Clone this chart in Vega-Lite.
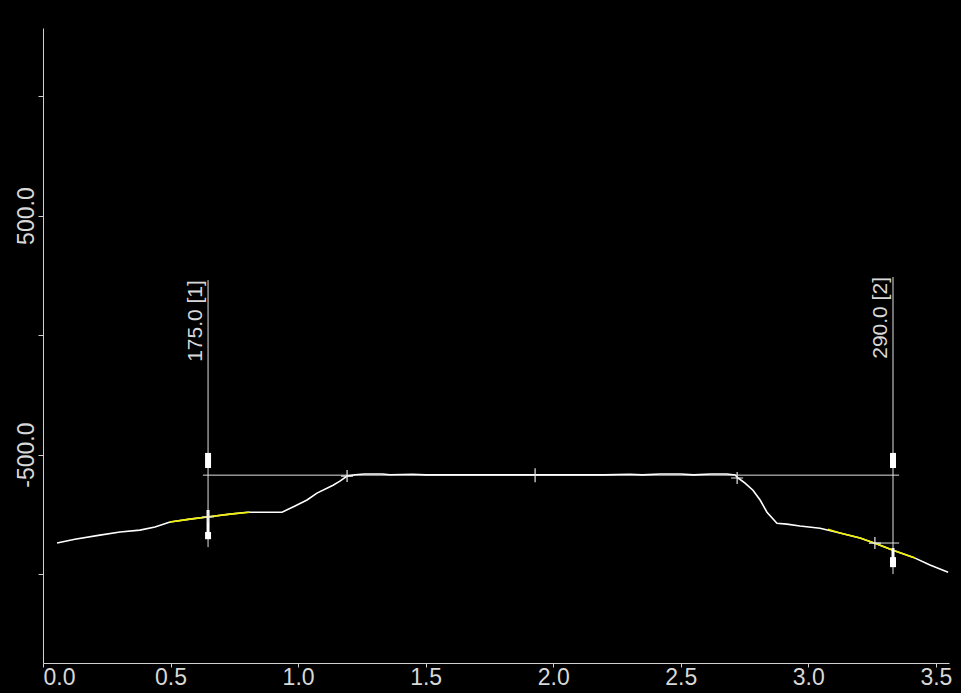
{
  "$schema": "https://vega.github.io/schema/vega-lite/v6.json",
  "width": 906,
  "height": 635,
  "autosize": {"type": "none"},
  "padding": {"left": 43, "top": 28, "right": 12, "bottom": 30},
  "background": "#000000",
  "config": {
    "view": {"stroke": null},
    "font": "Liberation Sans",
    "axis": {
      "domainColor": "#d0d0d0",
      "domainWidth": 1,
      "tickColor": "#d0d0d0",
      "tickWidth": 1,
      "labelColor": "#d8d8d8",
      "labelFont": "Liberation Sans",
      "labelFontSize": 23,
      "grid": false,
      "title": null
    }
  },
  "datasets": {
    "profile": [
      {"x": 0.055, "y": -870}, {"x": 0.125, "y": -854}, {"x": 0.223, "y": -837},
      {"x": 0.302, "y": -824}, {"x": 0.38, "y": -816},
      {"x": 0.439, "y": -803}, {"x": 0.498, "y": -782}, {"x": 0.576, "y": -770},
      {"x": 0.643, "y": -761}, {"x": 0.733, "y": -749}, {"x": 0.8, "y": -741},
      {"x": 0.937, "y": -741}, {"x": 0.988, "y": -715}, {"x": 1.035, "y": -690},
      {"x": 1.074, "y": -661}, {"x": 1.137, "y": -628}, {"x": 1.164, "y": -611},
      {"x": 1.192, "y": -590}, {"x": 1.223, "y": -584}, {"x": 1.26, "y": -581},
      {"x": 1.33, "y": -581}, {"x": 1.36, "y": -584}, {"x": 1.45, "y": -582},
      {"x": 1.5, "y": -585}, {"x": 1.7, "y": -585}, {"x": 1.93, "y": -585},
      {"x": 2.2, "y": -585}, {"x": 2.3, "y": -582}, {"x": 2.35, "y": -585},
      {"x": 2.42, "y": -581}, {"x": 2.5, "y": -581}, {"x": 2.55, "y": -585},
      {"x": 2.62, "y": -581}, {"x": 2.68, "y": -581}, {"x": 2.713, "y": -585},
      {"x": 2.725, "y": -598}, {"x": 2.752, "y": -619}, {"x": 2.783, "y": -649},
      {"x": 2.811, "y": -690}, {"x": 2.838, "y": -741}, {"x": 2.877, "y": -787},
      {"x": 2.916, "y": -791}, {"x": 2.967, "y": -799}, {"x": 3.046, "y": -808},
      {"x": 3.124, "y": -828}, {"x": 3.203, "y": -849}, {"x": 3.269, "y": -874},
      {"x": 3.332, "y": -900}, {"x": 3.41, "y": -929}, {"x": 3.477, "y": -962},
      {"x": 3.548, "y": -992}
    ],
    "highlight": [
      {"seg": 1, "x": 0.498, "y": -782}, {"seg": 1, "x": 0.576, "y": -770},
      {"seg": 1, "x": 0.643, "y": -761}, {"seg": 1, "x": 0.733, "y": -749},
      {"seg": 1, "x": 0.811, "y": -741},
      {"seg": 2, "x": 3.077, "y": -812}, {"seg": 2, "x": 3.124, "y": -828},
      {"seg": 2, "x": 3.203, "y": -849}, {"seg": 2, "x": 3.269, "y": -874},
      {"seg": 2, "x": 3.332, "y": -900}, {"seg": 2, "x": 3.418, "y": -933}
    ],
    "cursors": [
      {"id": 1, "x": 0.647, "y": 230, "y2": -887, "label": "175.0 [1]"},
      {"id": 2, "x": 3.332, "y": 243, "y2": -1000, "label": "290.0 [2]"}
    ],
    "levels": [
      {"x": 0.627, "x2": 3.356, "y": -586},
      {"x": 3.261, "x2": 3.356, "y": -870}
    ],
    "handles": [
      {"x": 0.647, "y": -493, "y2": -556},
      {"x": 0.647, "y": -824, "y2": -854},
      {"x": 3.332, "y": -493, "y2": -556},
      {"x": 3.332, "y": -929, "y2": -971}
    ],
    "stems": [
      {"x": 0.647, "y": -732, "y2": -828},
      {"x": 3.332, "y": -891, "y2": -950}
    ],
    "crosses": [
      {"x": 1.192, "y": -590}, {"x": 2.721, "y": -598},
      {"x": 3.261, "y": -870}, {"x": 0.647, "y": -761}
    ],
    "midmark": [{"x": 1.929, "y": -586}]
  },
  "encoding": {
    "x": {
      "field": "x", "type": "quantitative",
      "scale": {"domain": [0, 3.5515], "nice": false, "zero": false},
      "axis": {
        "values": [0, 0.5, 1, 1.5, 2, 2.5, 3, 3.5],
        "format": ".1f",
        "labelFlush": 1,
        "tickSize": 4,
        "labelPadding": -1
      }
    },
    "y": {
      "field": "y", "type": "quantitative",
      "scale": {"domain": [-1372, 1285], "nice": false, "zero": false},
      "axis": {
        "values": [-1000, -500, 0, 500, 1000],
        "labelExpr": "datum.value == 500 ? '500.0' : (datum.value == -500 ? '-500.0' : '')",
        "labelAngle": 270,
        "labelAlign": "center",
        "labelBaseline": "bottom",
        "tickSize": 5,
        "labelPadding": 0
      }
    }
  },
  "layer": [
    {
      "data": {"name": "levels"},
      "mark": {"type": "rule", "color": "#e0e0e0", "strokeWidth": 1},
      "encoding": {"x2": {"field": "x2"}}
    },
    {
      "data": {"name": "cursors"},
      "mark": {"type": "rule", "color": "#e0e0e0", "strokeWidth": 1},
      "encoding": {"y2": {"field": "y2"}}
    },
    {
      "data": {"name": "profile"},
      "mark": {"type": "line", "color": "#ffffff", "strokeWidth": 1.6, "interpolate": "linear"},
      "encoding": {"order": {"field": "x", "type": "quantitative"}}
    },
    {
      "data": {"name": "highlight"},
      "mark": {"type": "line", "color": "#f0f000", "strokeWidth": 1.6},
      "encoding": {"detail": {"field": "seg", "type": "nominal"}}
    },
    {
      "data": {"name": "handles"},
      "mark": {"type": "rule", "color": "#ffffff", "strokeWidth": 6, "strokeCap": "butt"},
      "encoding": {"y2": {"field": "y2"}}
    },
    {
      "data": {"name": "stems"},
      "mark": {"type": "rule", "color": "#ffffff", "strokeWidth": 3, "strokeCap": "butt"},
      "encoding": {"y2": {"field": "y2"}}
    },
    {
      "data": {"name": "crosses"},
      "mark": {"type": "point", "shape": "M-1,0L1,0M0,-1L0,1", "size": 144, "filled": false, "stroke": "#e8e8e8", "strokeWidth": 1.2, "opacity": 1}
    },
    {
      "data": {"name": "midmark"},
      "mark": {"type": "point", "shape": "M0,-1L0,1", "size": 196, "filled": false, "stroke": "#e8e8e8", "strokeWidth": 1.2, "opacity": 1}
    },
    {
      "data": {"name": "cursors"},
      "mark": {"type": "text", "angle": 270, "align": "right", "baseline": "bottom", "dy": -2, "fontSize": 21, "font": "Liberation Sans", "color": "#d8d8d8"},
      "encoding": {"text": {"field": "label"}}
    }
  ]
}
